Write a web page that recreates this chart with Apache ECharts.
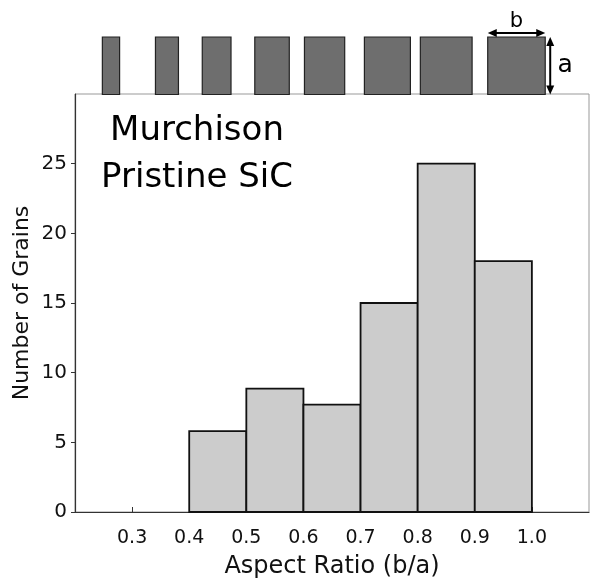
<!DOCTYPE html>
<html>
<head>
<meta charset="utf-8">
<script src="https://cdn.jsdelivr.net/npm/echarts@6/dist/echarts.min.js"></script>
<style>
  html, body { margin: 0; padding: 0; background: #fff; }
  #chart { width: 590px; height: 579px; }
</style>
</head>
<body>
<div id="chart"></div>
<script>
// Histogram of grain aspect ratios, with sketched grain shapes above the plot.
const FONT = '"DejaVu Sans", sans-serif';

// histogram bins (left edge) and counts
const binStarts = [0.4, 0.5, 0.6, 0.7, 0.8, 0.9];
const binWidth = 0.1;
const counts = [5.8, 8.85, 7.7, 15, 25, 18];

// grain sketches: centre on the aspect-ratio axis, and the b/a ratio of each box
const grainCentres = [0.263, 0.361, 0.448, 0.545, 0.637, 0.747, 0.850, 0.973];
const grainRatios = [0.3, 0.4, 0.5, 0.6, 0.7, 0.8, 0.9, 1.0];

const xTicks = [0.3, 0.4, 0.5, 0.6, 0.7, 0.8, 0.9, 1.0];
const yTicks = [0, 5, 10, 15, 20, 25];
const titleLines = ['Murchison', 'Pristine SiC'];

const chart = echarts.init(document.getElementById('chart'), null, { renderer: 'canvas' });

// histogram bars: [start, end, count]
const binData = binStarts.map((s, i) => [s, s + binWidth, counts[i]]);
const grainData = grainCentres.map((c, i) => [c, grainRatios[i]]);

function renderBin(params, api) {
  const p0 = api.coord([api.value(0), api.value(2)]);
  const p1 = api.coord([api.value(1), 0]);
  return {
    type: 'rect',
    shape: { x: p0[0], y: p0[1], width: p1[0] - p0[0], height: p1[1] - p0[1] },
    style: { fill: '#cccccc', stroke: '#111', lineWidth: 1.8 },
  };
}

function arrowHead(x, y, dx, dy) {
  // small filled triangle pointing along (dx, dy)
  const L = 9, W = 4;
  const px = -dy, py = dx;
  return {
    type: 'polygon',
    shape: { points: [[x, y], [x - dx * L + px * W, y - dy * L + py * W], [x - dx * L - px * W, y - dy * L - py * W]] },
    style: { fill: '#000' },
  };
}

function renderGrain(params, api) {
  const cx = api.value(0), ratio = api.value(1);
  const bot = api.coord([cx, 0]);
  const top = api.coord([cx, 1]);
  const h = bot[1] - top[1];
  const w = ratio * h;
  const x0 = bot[0] - w / 2;
  const children = [{
    type: 'rect',
    shape: { x: x0, y: top[1], width: w, height: h },
    style: { fill: '#6e6e6e', stroke: '#222', lineWidth: 1.2 },
  }];
  if (params.dataIndex === grainCentres.length - 1) {
    // dimension arrows for b (width) and a (height) on the square grain
    const ay = top[1] - 4, ax = x0 + w + 5;
    children.push(
      { type: 'line', shape: { x1: x0 + 4, y1: ay, x2: x0 + w - 4, y2: ay }, style: { stroke: '#000', lineWidth: 2 } },
      arrowHead(x0, ay, -1, 0), arrowHead(x0 + w, ay, 1, 0),
      { type: 'text', style: { text: 'b', x: x0 + w / 2, y: ay - 11, align: 'center', verticalAlign: 'middle', font: '21px ' + FONT, fill: '#000' } },
      { type: 'line', shape: { x1: ax, y1: top[1] + 4, x2: ax, y2: bot[1] - 4 }, style: { stroke: '#000', lineWidth: 2 } },
      arrowHead(ax, top[1], 0, -1), arrowHead(ax, bot[1], 0, 1),
      { type: 'text', style: { text: 'a', x: ax + 15, y: top[1] + h / 2, align: 'center', verticalAlign: 'middle', font: '25px ' + FONT, fill: '#000' } }
    );
  }
  return { type: 'group', children };
}

const option = {
  animation: false,
  backgroundColor: '#fff',
  grid: [
    { left: 75, top: 94, width: 514, height: 418, outerBoundsMode: 'none', containLabel: false,
      show: true, borderColor: '#999', borderWidth: 1, backgroundColor: 'transparent' },
    { left: 75, top: 37, width: 514, height: 57.5, outerBoundsMode: 'none', containLabel: false, show: false },
  ],
  xAxis: [
    {
      gridIndex: 0, type: 'value', min: 0.2, max: 1.1, interval: 0.1,
      name: 'Aspect Ratio (b/a)', nameLocation: 'middle', nameGap: 43, nameMoveOverlap: false,
      nameTextStyle: { fontFamily: FONT, fontSize: 24, color: '#111' },
      axisLine: { show: true, lineStyle: { color: '#333', width: 1.2 } },
      axisTick: {
        show: true, inside: true, length: 5, customValues: xTicks, lineStyle: { color: '#333' },
      },
      axisLabel: {
        margin: 17, fontFamily: FONT, fontSize: 19, color: '#111',
        customValues: xTicks,
        formatter: (v) => Number(v).toFixed(1),
      },
      splitLine: { show: false },
    },
    {
      gridIndex: 1, type: 'value', min: 0.2, max: 1.1, show: false,
    },
  ],
  yAxis: [
    {
      gridIndex: 0, type: 'value', min: 0, max: 30, interval: 5,
      name: 'Number of Grains', nameLocation: 'middle', nameGap: 42, nameMoveOverlap: false,
      nameTextStyle: { fontFamily: FONT, fontSize: 22, color: '#111' },
      axisLine: { show: true, lineStyle: { color: '#333', width: 1.2 } },
      axisTick: { show: true, length: 4, customValues: yTicks, lineStyle: { color: '#333' } },
      axisLabel: {
        margin: 8, fontFamily: FONT, fontSize: 20, color: '#111',
        customValues: yTicks,
      },
      splitLine: { show: false },
    },
    { gridIndex: 1, type: 'value', min: 0, max: 1, show: false },
  ],
  graphic: titleLines.map((line, i) => ({
    type: 'text', x: 197, y: 131 + i * 47, z: 10,
    style: { text: line, align: 'center', verticalAlign: 'middle', font: '34px ' + FONT, fill: '#000' },
  })),
  series: [
    { type: 'custom', xAxisIndex: 0, yAxisIndex: 0, renderItem: renderBin, data: binData, encode: { x: [0, 1], y: 2 }, silent: true },
    { type: 'custom', xAxisIndex: 1, yAxisIndex: 1, renderItem: renderGrain, data: grainData, encode: { x: 0, y: 1 }, silent: true, clip: false },
  ],
};

chart.setOption(option);
</script>
</body>
</html>
